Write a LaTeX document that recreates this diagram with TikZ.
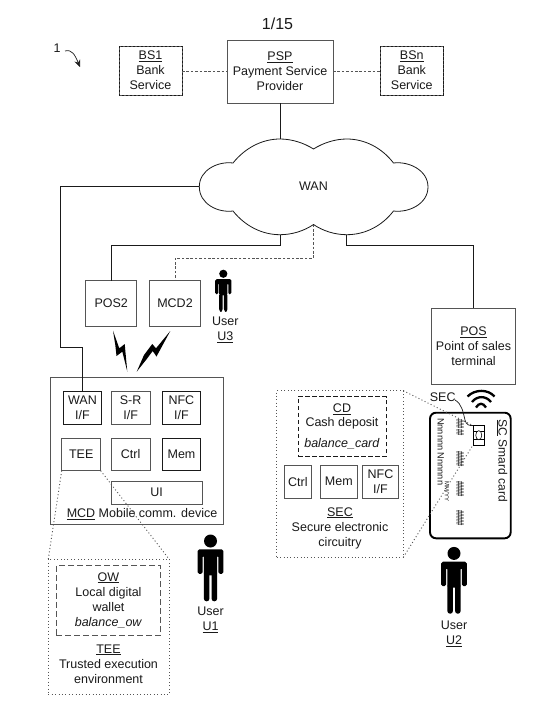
\documentclass[tikz,border=0pt]{standalone}
\usepackage{fontspec}
\setmainfont{Liberation Sans}
\usetikzlibrary{arrows.meta}
\definecolor{ink}{HTML}{1A1A1A}
\definecolor{boxgray}{HTML}{555555}
\newcommand{\fs}{\fontsize{12.5}{15}\selectfont}
\tikzset{
  x=1pt,y=-1pt,
  every node/.style={font=\fs,text=ink,inner sep=0pt,outer sep=0pt,align=center},
  thinbox/.style={draw=boxgray,line width=0.9pt},
  darkbox/.style={draw=ink,line width=0.8pt},
  dashbox/.style={draw=ink,line width=0.8pt,dash pattern=on 2.4pt off 1.6pt},
  cdbox/.style={draw=ink,line width=0.8pt,dash pattern=on 4.5pt off 2.5pt},
  longdash/.style={draw=boxgray,line width=0.8pt,dash pattern=on 6pt off 3pt},
  dotbox/.style={draw=boxgray,line width=0.9pt,dash pattern=on 1pt off 2.4pt},
  wire/.style={draw=ink,line width=0.7pt},
  dashwire/.style={draw=boxgray,line width=0.8pt,dash pattern=on 2.6pt off 1.8pt},
  dotwire/.style={draw=boxgray,line width=0.9pt,dash pattern=on 1pt off 2.4pt},
  rect/.style 2 args={minimum width=#1,minimum height=#2,anchor=north west},
  person/.pic={
    \fill[black] (0,-8.3) circle (6.5);
    % shoulders, arms and torso
    \fill[black,rounded corners=1.6] (-12.8,0) -- (12.8,0) -- (12.8,24.5) -- (7.9,24.5) -- (7.9,6) -- (6.6,6) -- (6.6,26) -- (-6.6,26) -- (-6.6,6) -- (-7.9,6) -- (-7.9,24.5) -- (-12.8,24.5) -- cycle;
    % legs
    \fill[black,rounded corners=2.6] (-6.6,22) -- (-1.1,22) -- (-1.1,52) -- (-6.6,52) -- cycle;
    \fill[black,rounded corners=2.6] (6.6,22) -- (1.1,22) -- (1.1,52) -- (6.6,52) -- cycle;
  },
}
\newcommand{\bx}[6][thinbox]{\node[#1,rect={#4-#2}{#5-#3}] (#6) at (#2,#3) {};}
\begin{document}
\begin{tikzpicture}
\useasboundingbox[fill=white] (0,0) rectangle (556,728);

% page number and figure reference
\node[font=\fontsize{16}{18}\selectfont] (pg) at (277.5,24) {1/15};
\node[font=\fontsize{12.5}{14}\selectfont] (one) at (57,48) {1};
\coordinate (onetip) at (80,67);
\draw[wire,-{Stealth[length=7pt,width=6pt]}] (65,51) .. controls (72,49) and (75,55) .. (onetip);

% top row
\bx{119}{46}{182}{95}{bs1}
\draw[dashbox] (bs1.north west) rectangle (bs1.south east);
\bx{227}{40}{333}{103}{psp}
\bx{380}{46}{443.5}{95}{bsn}
\draw[dashbox] (bsn.north west) rectangle (bsn.south east);
\node at (bs1) {\underline{BS1}\\Bank\\Service};
\node at (psp) {\underline{PSP}\\Payment Service\\Provider};
\node at (bsn) {\underline{BSn}\\Bank\\Service};
\draw[dashwire] (bs1.east |- 0,71) -- (psp.west |- 0,71);
\draw[dashwire] (psp.east |- 0,71) -- (bsn.west |- 0,71);

% cloud
\node (wan) at (313.5,186) {WAN};
\coordinate (cL) at (199.3,186.7);
\coordinate (cT) at (280,139);
\coordinate (cN) at (313.5,224.5);
\coordinate (cB1) at (280,234.7);
\coordinate (cB2) at (346.7,234.7);
\draw[wire,line width=0.8pt] (233,163)
  .. controls (245,148) and (262,139) .. (cT)
  .. controls (292,139) and (304,143) .. (313.5,149)
  .. controls (323,143) and (335,139) .. (346.7,139)
  .. controls (365,139) and (382,148) .. (393.5,163)
  .. controls (408.5,161) and (428,170) .. (428,187)
  .. controls (428,204) and (408.5,213) .. (393.5,211)
  .. controls (382,226) and (365,234.7) .. (cB2)
  .. controls (335,234.7) and (323,231) .. (cN)
  .. controls (304,231) and (292,234.7) .. (cB1)
  .. controls (262,234.7) and (245,226) .. (233,211)
  .. controls (218,213) and (199.3,204) .. (cL)
  .. controls (199.3,170) and (218,161) .. (233,163) -- cycle;
\draw[wire] (psp.south -| cT) -- (cT);

% POS2, MCD2
\bx{85.7}{280.7}{136.7}{326}{pos2}
\bx{149.7}{280.7}{200.3}{326}{mcd2}
\node at (pos2) {POS2};
\node at (mcd2) {MCD2};
\draw[wire] (cB1) -- (280,245) -- (111.2,245) -- (pos2.north);
\draw[dashwire] (cN) -- (313.5,258) -- (175,258) -- (mcd2.north);

% POS
\bx{431.3}{308}{515.7}{384}{pos}
\node at (pos) {\underline{POS}\\Point of sales\\terminal};
\draw[wire] (cB2) -- (346.7,245) -- (473.5,245) -- (pos.north);

% lightning
\fill[black] (113,330.7) -- (119.3,348.3) -- (124.7,344) -- (127.3,371.7) -- (122.3,351.7) -- (116.5,356) -- (115.3,345) -- cycle;
\fill[black] (170.3,331) -- (156,348.3) -- (152.3,344) -- (144,355) -- (136.7,371.7) -- (147.3,358.3) -- (152.7,351) -- (156.5,356.5) -- cycle;

% MCD
\bx{50.7}{377}{223.3}{524.7}{mcd}
\bx[darkbox]{63.3}{391}{101.7}{424}{wanif}
\bx{111.3}{391}{150}{424}{srif}
\bx[darkbox]{162}{391}{200.7}{424}{nfcif}
\bx{61.7}{438}{100.7}{470.7}{tee}
\bx{111.3}{438}{150}{470.7}{ctrl}
\bx[darkbox]{162.3}{438}{200.7}{470.7}{mem}
\bx{111.3}{481}{202}{504.3}{ui}
\node at (wanif) {WAN\\I/F};
\node at (srif) {S-R\\I/F};
\node at (nfcif) {NFC\\I/F};
\node at (tee) {TEE};
\node at (ctrl) {Ctrl};
\node at (mem) {Mem};
\node at (ui) {UI};
\node (mcdl) at (142,514.3) {\underline{MCD} Mobile comm. device};
\draw[wire] (60,186.7) -- (cL);
\draw[wire] (60,186.7) -- (60,347) -- (82.5,347) -- (wanif.north);

% TEE detail
\bx[dotbox]{48.3}{559}{169}{694.7}{teeo}
\bx[longdash]{56.3}{565.7}{160.7}{635.7}{ow}
\node at (108.5,600) {\underline{OW}\\Local digital\\wallet\\\textit{balance\_ow}};
\node (teel) at (108.5,664) {\underline{TEE}\\Trusted execution\\environment};
\draw[dotwire] (tee.south west) -- (teeo.north west);
\draw[dotwire] (tee.south east) -- (teeo.north east);

% SEC detail
\bx[dotbox]{276.7}{390.7}{403.3}{557.3}{seco}
\bx[cdbox]{298}{396.7}{386.3}{456}{cd}
\node at (342,409) {\underline{CD}};
\node at (342,423) {Cash deposit};
\node at (342,443.3) {\textit{balance\_card}};
\bx{284}{465}{311.7}{498.3}{sctrl}
\bx{320}{465}{357.7}{498.3}{smem}
\bx{362.7}{465}{398.3}{498.3}{snfc}
\node at (sctrl) {Ctrl};
\node at (smem) {Mem};
\node at (snfc) {NFC\\I/F};
\node (secl) at (340,528) {\underline{SEC}\\Secure electronic\\circuitry};

% smart card
\draw[draw=black,line width=1.9pt,rounded corners=6pt] (430,412.7) rectangle (510.7,538.3);
\node[rotate=-90,font=\fontsize{12}{14}\selectfont] (sc) at (502,460.7) {\underline{SC} Smard card};
\node[rotate=-90,font=\fontsize{9.2}{10}\selectfont] (nn) at (440.7,451.7) {Nnnnnn Nnnnnn};
\node[rotate=-90,font=\fontsize{6}{7}\selectfont] (yy) at (447,491.7) {MM/YY};
\foreach \yy/\nm in {427.5/a,459/b,489/c,518/d}
  \node[rotate=-90,xscale=0.75,yscale=1.45,font=\fontsize{7.6}{9}\selectfont\bfseries] (h\nm) at (460,\yy) {\#\#\#\#\#};
% chip
\coordinate (chTL) at (473,425.5);
\coordinate (chBL) at (473,445);
\draw[black,line width=0.7pt] (chTL) rectangle (484.5,445);
\draw[black,line width=0.6pt] (473,431.5) -- (484.5,431.5) (473,439) -- (484.5,439);
\draw[black,line width=0.6pt,fill=white] (478.75,435.2) ellipse (3 and 4.6);
\draw[dotwire] (seco.north east) -- (chTL);
\draw[dotwire] (seco.south east) -- (chBL);
\node (secc) at (442.7,397.3) {SEC};
\draw[wire] (455,400) .. controls (462,404) and (463,412) .. (465,420) .. controls (466,425) and (470,426) .. (chTL);
% contactless
\draw[black,line width=2.3pt] (467.5,396.5) .. controls (475,389) and (488,389) .. (494.5,396.5);
\draw[black,line width=2.3pt] (472,402) .. controls (477,395.5) and (486,395.5) .. (491,402);
\draw[black,line width=2.3pt] (476,407.5) .. controls (479,402.5) and (483,402.5) .. (486,407.5);

% users
\pic (u1) at (210.5,549.3) {person};
\node at (210.5,620.2) {User\\\underline{U1}};
\pic (u2) at (454,561.7) {person};
\node at (454,633.5) {User\\\underline{U2}};
\pic[scale=0.63] (u3) at (223.3,279) {person};
\node at (225.3,330) {User\\\underline{U3}};
\end{tikzpicture}
\end{document}
